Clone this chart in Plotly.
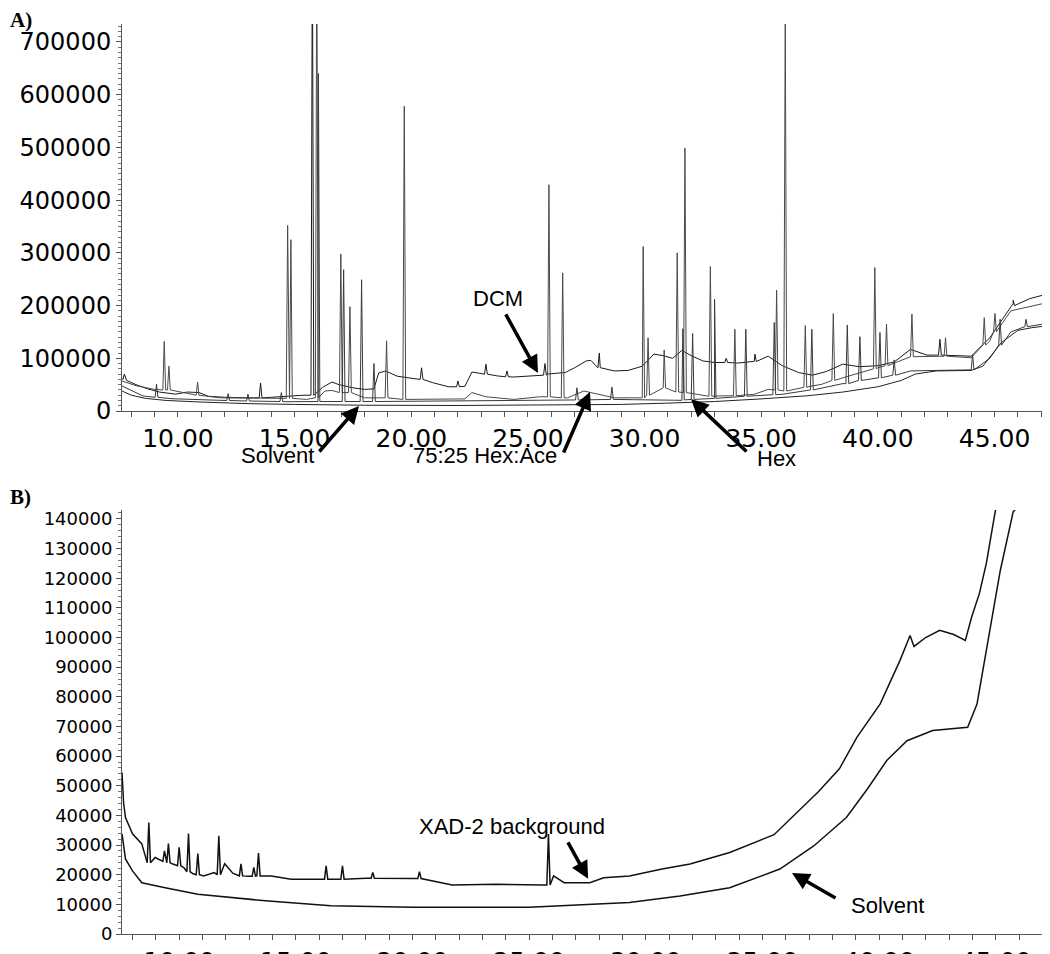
import plotly.graph_objects as go

# ---------------- Panel A data (retention time in min, abundance) ----------------
dcm_base_t = [7.6, 7.8, 8.2, 8.7, 9.2, 9.9, 10.4, 10.9, 11.3, 12.0, 13.0, 14.0, 14.6, 15.0, 15.4,
              16.2, 16.6, 16.9, 17.5, 18.0, 18.4, 18.6, 18.9, 19.4, 20.2, 20.9, 21.6, 22.3, 22.6,
              23.0, 23.7, 24.4, 25.3, 25.8, 26.6, 27.0, 27.5, 27.7, 28.1, 28.7, 29.3, 29.9, 30.4,
              30.8, 31.2, 31.6, 32.0, 32.5, 33.0, 34.0, 34.7, 35.3, 35.9, 36.6, 37.2, 37.8, 38.5,
              39.2, 40.0, 40.7, 41.4, 42.1, 44.0, 44.8, 45.8, 46.5, 47.3]
dcm_base_v = [62000, 58000, 50000, 42000, 36000, 32000, 36000, 35000, 28000, 26000, 25000, 26000,
              28000, 30000, 30000, 45000, 55000, 50000, 44000, 41000, 42000, 72000, 76000, 66000,
              61000, 54000, 46000, 47000, 74000, 71000, 66500, 64500, 67000, 70000, 73000, 82000,
              95000, 96000, 82000, 76000, 77000, 85000, 108000, 105000, 100000, 115000, 105000,
              95000, 92000, 91000, 94000, 104000, 86000, 73000, 68000, 75000, 89000, 84000, 86000,
              93000, 117000, 106000, 104000, 139000, 203000, 213000, 222000]
# (time, apex, base)
dcm_peaks = [(7.7, 70000, 60000), (13.54, 53000, 25000), (15.76, 900000, 30000),
             (20.44, 82000, 60000), (22.0, 57000, 46000), (23.2, 89000, 70000),
             (24.1, 76000, 65000), (25.73, 90000, 68000), (28.06, 110000, 82000),
             (33.5, 100000, 92000), (34.73, 108000, 94000), (42.66, 136000, 106000),
             (45.8, 210000, 200000), (47.16, 245000, 220000)]

hexace_base_t = [7.6, 8.2, 9.0, 10.4, 11.8, 13.3, 14.4, 15.5, 16.3, 16.6, 17.3, 18.0, 21.6, 22.3,
                 22.6, 23.2, 24.4, 25.5, 26.7, 27.4, 27.7, 28.7, 29.9, 30.8, 31.6, 33.0, 34.7,
                 35.3, 36.1, 37.1, 37.6, 38.5, 40.0, 41.4, 44.0, 44.8, 45.7, 47.3]
hexace_base_v = [57000, 48000, 41000, 33000, 25000, 24000, 24000, 22000, 38000, 39000, 35000,
                 25000, 22000, 23000, 35000, 27000, 22000, 27000, 25000, 38000, 35000, 25000,
                 25000, 44000, 35000, 28500, 31700, 41000, 38000, 47000, 50700, 63000, 82000,
                 103000, 101000, 133000, 190000, 206000]
hexace_peaks = [(9.41, 132000, 40000), (9.61, 85000, 40000), (10.84, 55000, 30000),
                (14.7, 352000, 24000), (14.84, 325000, 24000), (15.95, 900000, 25000),
                (16.98, 298000, 35000), (17.37, 198000, 35000), (18.94, 133000, 25000),
                (19.7, 578000, 22000), (25.9, 429000, 27000), (26.49, 262000, 25000),
                (29.94, 312000, 25000), (30.15, 139000, 30000), (30.84, 116000, 44000),
                (31.4, 300000, 36000), (31.73, 499000, 35000), (32.82, 274000, 28000),
                (33.87, 155000, 29000), (35.66, 229000, 40000), (36.03, 760000, 38000),
                (36.89, 162000, 45000), (38.09, 185000, 58000), (39.87, 272000, 80000),
                (40.37, 165000, 86000), (41.46, 184000, 103000), (42.9, 139000, 104000),
                (44.56, 177000, 125000), (45.02, 185000, 150000)]

hex_base_t = [7.6, 8.5, 9.7, 11.8, 14.6, 16.0, 17.5, 20.0, 24.0, 27.2, 29.5, 31.6, 33.0, 35.9,
              37.1, 38.5, 40.0, 41.4, 42.5, 44.0, 44.8, 45.7, 46.3, 47.3]
hex_base_v = [47500, 28500, 23400, 20300, 17700, 18000, 17700, 18500, 19000, 21000, 21500,
              20300, 24000, 31700, 40000, 52000, 63000, 76000, 77000, 78000, 100000, 150000,
              160000, 168000]
hex_peaks = [(9.08, 51000, 26000), (12.15, 33000, 20000), (13.0, 32000, 19000),
             (14.43, 35000, 18000), (16.02, 640000, 18000), (17.1, 268000, 18000),
             (17.87, 249000, 18000), (18.4, 90000, 18000), (27.1, 44000, 21000),
             (28.6, 45600, 22000), (31.64, 156000, 21000), (32.06, 147000, 22000),
             (33.0, 212000, 24000), (34.34, 155000, 28000), (35.56, 168000, 31000),
             (37.17, 155000, 40000), (38.69, 163000, 52000), (39.23, 141000, 58000),
             (40.09, 149000, 63000), (40.7, 97000, 68000), (44.06, 106000, 78000),
             (45.24, 174000, 125000), (46.35, 174000, 160000), (47.16, 191000, 165000)]

solv_a_t = [7.6, 8.0, 8.6, 9.5, 11.0, 13.0, 15.0, 18.0, 22.0, 26.0, 29.0, 31.0, 33.0, 35.0,
            37.0, 38.5, 40.0, 41.0, 41.6, 42.5, 44.0, 44.5, 45.3, 46.0, 46.6, 47.3]
solv_a_v = [38000, 30000, 24000, 20000, 17000, 14000, 12500, 11000, 10500, 11000, 12500, 15000,
            18000, 23000, 29000, 36000, 46000, 58000, 70000, 76000, 77000, 85000, 130000,
            153000, 158000, 162000]

# ---------------- Panel B data ----------------
xad_base_t = [7.55, 7.62, 7.7, 8.0, 8.4, 8.6, 8.97, 9.2, 9.7, 10.2, 10.6, 11.05, 11.5, 11.95,
              12.3, 13.0, 13.95, 14.8, 16.5, 18.0, 20.0, 21.7, 23.6, 25.6, 26.05, 26.5, 27.6,
              28.2, 29.3, 30.7, 31.9, 33.6, 35.5, 36.5, 37.4, 38.3, 39.05, 40.05, 40.9, 41.33,
              41.5, 42.0, 42.6, 43.2, 43.7, 43.97, 44.3, 44.6, 44.97, 45.1]
xad_base_v = [54500, 44000, 39300, 33800, 30400, 25300, 25800, 25000, 23700, 22400, 20300,
              19600, 20700, 23700, 20500, 19500, 19600, 18500, 18500, 18800, 18700, 16500,
              16800, 16500, 19600, 17300, 17300, 19000, 19600, 21900, 23600, 27500, 33500,
              41000, 48000, 55700, 66300, 77600, 92300, 100700, 97000, 100000, 102400, 101000,
              99000, 106900, 114800, 125000, 142400, 148000]
xad_peaks = [(8.7, 37600, 24000), (9.37, 28000, 24500), (9.54, 30500, 24000),
             (10.0, 29200, 23000), (10.4, 33900, 21000), (10.8, 27100, 20000),
             (11.7, 33100, 20000), (12.65, 23700, 19600), (13.2, 22500, 19500),
             (13.4, 27300, 19600), (16.3, 23000, 18500), (17.0, 23000, 18500),
             (18.3, 20800, 18800), (20.3, 21000, 18700), (25.83, 33700, 16500)]

solv_b_t = [7.55, 7.7, 8.0, 8.4, 9.4, 10.8, 13.7, 16.5, 20.0, 25.0, 29.3, 31.47, 33.6, 35.75,
            37.2, 38.6, 39.5, 40.33, 41.2, 42.3, 43.8, 44.2, 44.6, 45.2, 45.75, 46.05]
solv_b_v = [33800, 25300, 21300, 17300, 15600, 13400, 11200, 9500, 9000, 9000, 10600, 12800,
            15600, 21900, 29700, 39300, 48900, 58500, 65200, 68600, 69700, 77600, 95700,
            122700, 142400, 145000]


def build(bt, bv, peaks, hw=0.06):
    pts = list(zip(bt, bv))
    for t, apex, base in peaks:
        pts += [(t - hw, base), (t, apex), (t + hw, base)]
    pts.sort(key=lambda p: p[0])
    return [p[0] for p in pts], [p[1] for p in pts]


fig = go.Figure()

line_style = [("DCM", dcm_base_t, dcm_base_v, dcm_peaks, "#1a1a1a"),
              ("75:25 Hex:Ace", hexace_base_t, hexace_base_v, hexace_peaks, "#4a4a4a"),
              ("Hex", hex_base_t, hex_base_v, hex_peaks, "#3a3a3a"),
              ("Solvent", solv_a_t, solv_a_v, [], "#222222")]
for name, bt, bv, pk, col in line_style:
    xs, ys = build(bt, bv, pk)
    fig.add_trace(go.Scatter(x=xs, y=ys, mode="lines", name=name,
                             line=dict(color=col, width=1), xaxis="x", yaxis="y"))

for name, bt, bv, pk, col in [("XAD-2 background", xad_base_t, xad_base_v, xad_peaks, "#111111"),
                              ("Solvent", solv_b_t, solv_b_v, [], "#111111")]:
    xs, ys = build(bt, bv, pk, hw=0.07)
    fig.add_trace(go.Scatter(x=xs, y=ys, mode="lines", name=name,
                             line=dict(color=col, width=1.5), xaxis="x2", yaxis="y2"))

tickfont_x = dict(family="DejaVu Sans", size=25, color="black")
axis_common = dict(showline=True, linecolor="#555", linewidth=1, showgrid=False,
                   zeroline=False, ticks="outside", ticklen=5, tickcolor="#555", mirror=False,
                   automargin=False)

fig.update_layout(
    width=1042, height=946,
    margin=dict(l=114, r=3, t=16, b=20),
    paper_bgcolor="white", plot_bgcolor="white",
    showlegend=False,
    xaxis=dict(domain=[0, 1], anchor="y", range=[7.6, 47.25], tick0=0, dtick=5,
               tickformat=".2f", tickfont=tickfont_x,
               minor=dict(dtick=1, ticks="outside", ticklen=5, tickcolor="#555"),
               **axis_common),
    yaxis=dict(domain=[0.5747, 1.0], anchor="x", range=[0, 734000], tick0=0, dtick=100000,
               tickformat="d", tickfont=dict(family="DejaVu Sans", size=24, color="black"),
               minor=dict(dtick=10000, ticks="outside", ticklen=3, tickcolor="#777"),
               **axis_common),
    xaxis2=dict(domain=[0, 1], anchor="y2", range=[7.55, 47.2], tick0=0, dtick=5,
                tickformat=".2f", tickfont=tickfont_x,
                minor=dict(dtick=1, ticks="outside", ticklen=5, tickcolor="#555"),
                **axis_common),
    yaxis2=dict(domain=[0, 0.4659], anchor="x2", range=[0, 143000], tick0=0, dtick=10000,
                tickformat="d", tickfont=dict(family="DejaVu Sans", size=18, color="black"),
                minor=dict(dtick=2000, ticks="outside", ticklen=3, tickcolor="#777"),
                **axis_common),
)

lab_font = dict(family="Liberation Sans", size=22, color="black")
panel_font = dict(family="Liberation Serif", size=21, color="black")
fig.add_annotation(text="<b>A)</b>", x=-0.1232, y=1.0176, xref="paper", yref="paper",
                   showarrow=False, font=panel_font, xanchor="left", yanchor="top",
                   yshift=2)
fig.add_annotation(text="<b>B)</b>", x=-0.1232, y=0.4802, xref="paper", yref="paper",
                   showarrow=False, font=panel_font, xanchor="left", yanchor="middle")

texts = [("DCM", 0.4065, 0.6989),
         ("Solvent", 0.1686, 0.5253),
         ("75:25 Hex:Ace", 0.3924, 0.5253),
         ("Hex", 0.7081, 0.5220),
         ("XAD-2 background", 0.4216, 0.1176),
         ("Solvent", 0.8281, 0.0308)]
for txt, xp, yp in texts:
    fig.add_annotation(text=txt, x=xp, y=yp, xref="paper", yref="paper", showarrow=False,
                       font=lab_font, xanchor="center", yanchor="middle")

arrows = [("x", "y", 25.43, 72200, -33, -60),
          ("x", "y", 17.76, 9500, -41, 47),
          ("x", "y", 27.66, 36100, -27, 62),
          ("x", "y", 31.99, 22800, 57, 54),
          ("x2", "y2", 27.53, 18600, -21, -38),
          ("x2", "y2", 36.27, 20600, 45, 26)]
for xr, yr, xv, yv, ax, ay in arrows:
    fig.add_annotation(text="", x=xv, y=yv, xref=xr, yref=yr, ax=ax, ay=ay,
                       showarrow=True, arrowhead=2, arrowsize=1, arrowwidth=3.5,
                       arrowcolor="black", standoff=0)

fig.write_html("out.html")
